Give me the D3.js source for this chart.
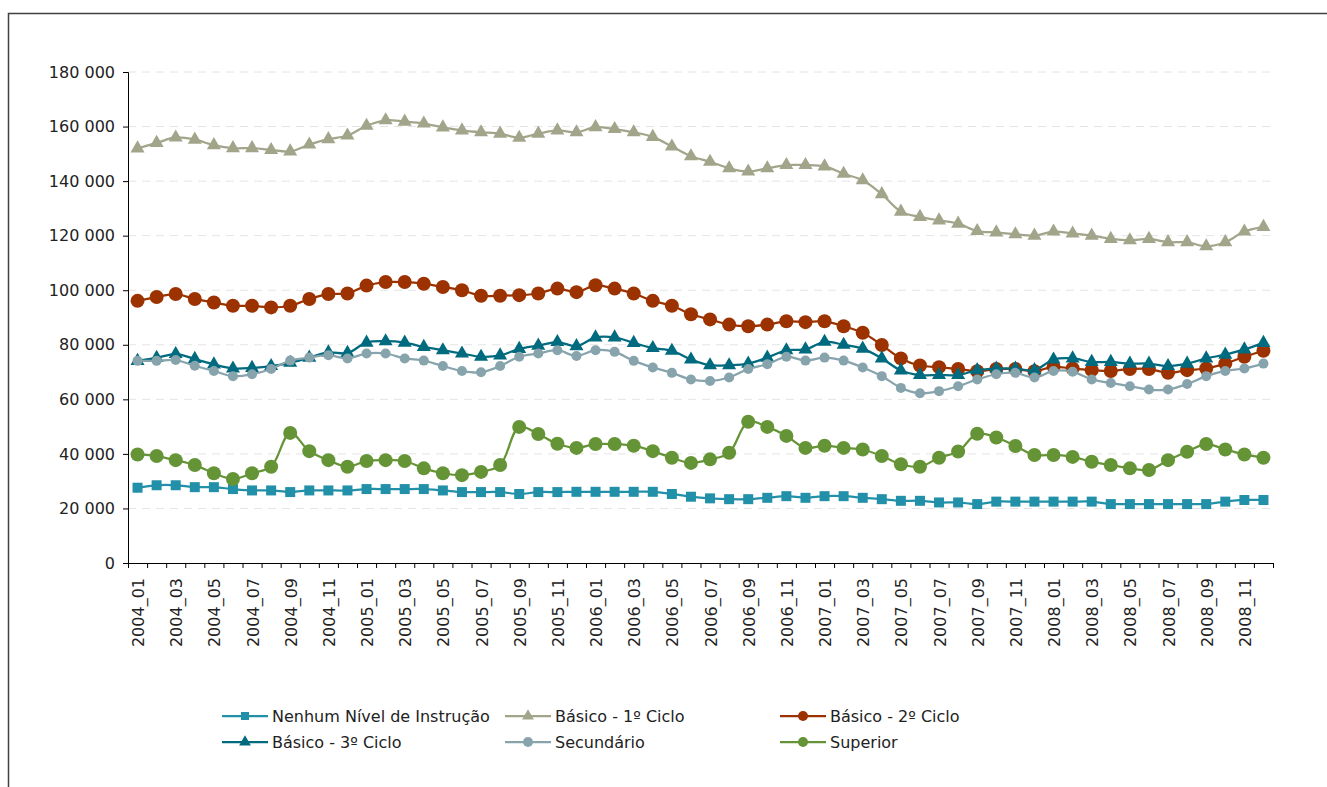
<!DOCTYPE html>
<html>
<head>
<meta charset="utf-8">
<script src="https://cdn.jsdelivr.net/npm/d3@7"></script>
<style>
  body { margin: 0; background: #fff; }
  text { font-family: "DejaVu Sans", sans-serif; fill: #222; }
</style>
</head>
<body>
<div id="chart"></div>
<script>
const years = ["2004", "2005", "2006", "2007", "2008"];
const months = ["01", "02", "03", "04", "05", "06", "07", "08", "09", "10", "11", "12"];
const categories = years.flatMap(y => months.map(m => `${y}_${m}`));

const yTicks = [0, 20000, 40000, 60000, 80000, 100000, 120000, 140000, 160000, 180000];

const nenhum = [27600, 28500, 28500, 27800, 27800, 27100, 26600, 26600, 26000, 26600, 26600, 26600,
    27100, 27100, 27100, 27100, 26600, 26000, 26000, 26000, 25300, 26000, 26000, 26100,
    26100, 26100, 26100, 26100, 25300, 24300, 23700, 23400, 23400, 23900, 24500, 23900,
    24500, 24500, 23900, 23400, 22800, 22800, 22200, 22200, 21600, 22500, 22500, 22500,
    22500, 22500, 22500, 21600, 21600, 21600, 21600, 21600, 21600, 22500, 23100, 23100];

const basico1 = [152000, 154000, 156000, 155200, 153200, 152100, 152100, 151400, 150900, 153400, 155400, 156700,
    160300, 162300, 161800, 161100, 159700, 158600, 157900, 157400, 155900, 157400, 158600, 157900,
    159800, 159100, 157900, 156200, 152700, 149100, 147100, 144700, 143500, 144700, 145900, 145900,
    145400, 142700, 140300, 135200, 128800, 126900, 125600, 124400, 121700, 121200, 120500, 120000,
    121500, 120800, 120000, 118800, 118300, 118800, 117600, 117600, 116100, 117600, 121500, 123200];

const basico2 = [96100, 97500, 98600, 96800, 95500, 94300, 94300, 93700, 94300, 96800, 98600, 98800,
    101700, 103000, 103000, 102400, 101200, 100000, 98000, 98000, 98200, 98800, 100600, 99300,
    101800, 100600, 98800, 96100, 94300, 91200, 89300, 87400, 86800, 87400, 88600, 88300,
    88600, 86800, 84400, 79900, 75000, 72400, 71800, 71100, 70300, 71100, 71100, 70300,
    71900, 71300, 70700, 70400, 71100, 71100, 69700, 70700, 71300, 73100, 75600, 77800];

const basico3 = [74100, 75200, 76600, 74800, 72800, 71300, 71500, 72200, 73400, 75300, 77200, 77000,
    80800, 81300, 80800, 79200, 78000, 76800, 75600, 76100, 78500, 79700, 81000, 79500,
    82700, 82700, 80700, 78800, 77800, 74600, 72500, 72500, 73100, 75300, 78000, 78300,
    81100, 80000, 78600, 75000, 70600, 68900, 68900, 68900, 70700, 71300, 71300, 70700,
    74600, 75000, 73700, 73700, 73100, 73100, 72200, 73100, 75000, 76400, 78300, 80700];

const secundario = [74100, 74100, 74400, 72300, 70400, 68500, 69200, 71100, 74200, 75300, 76200, 75000,
    76800, 76800, 75000, 74200, 72200, 70400, 69900, 72200, 75600, 76800, 78000, 75900,
    78000, 77400, 74100, 71700, 69700, 67300, 66700, 68000, 71100, 72900, 75600, 74200,
    75300, 74200, 71700, 68500, 64200, 62200, 63000, 64800, 67300, 69200, 69700, 68000,
    70400, 70100, 67300, 66000, 64800, 63600, 63600, 65600, 68500, 70400, 71300, 73100];

const superior = [39800, 39200, 37700, 35900, 32900, 30800, 32900, 35300, 47700, 41000, 37700, 35300,
    37400, 37700, 37400, 34700, 32900, 32200, 33400, 35900, 49900, 47300, 43700, 42200,
    43600, 43600, 43000, 41000, 38600, 36700, 38000, 40400, 51800, 49900, 46600, 42200,
    43000, 42200, 41600, 39200, 36200, 35300, 38600, 40900, 47400, 46000, 42900, 39600,
    39600, 38900, 37100, 35900, 34700, 34100, 37700, 40800, 43600, 41600, 39800, 38600];

const seriesNames = ["Nenhum Nível de Instrução", "Básico - 1º Ciclo", "Básico - 2º Ciclo",
    "Básico - 3º Ciclo", "Secundário", "Superior"];

const series = [
    { name: seriesNames[0], values: nenhum, color: "#2190a8", shape: "square", size: 100 },
    { name: seriesNames[1], values: basico1, color: "#a2a58a", shape: "triangle", size: 85 },
    { name: seriesNames[2], values: basico2, color: "#9b3200", shape: "circle", size: 7 },
    { name: seriesNames[3], values: basico3, color: "#006a7f", shape: "triangle", size: 85 },
    { name: seriesNames[4], values: secundario, color: "#87a4ad", shape: "circle", size: 5 },
    { name: seriesNames[5], values: superior, color: "#659437", shape: "circle", size: 7 }
];

const width = 1327, height = 787;
const margin = { left: 128, right: 1273, top: 72, bottom: 563 };

const svg = d3.select("#chart").append("svg")
    .attr("width", width)
    .attr("height", height);

// outer frame
svg.append("rect")
    .attr("x", 8.5)
    .attr("y", 13.5)
    .attr("width", 1400)
    .attr("height", 900)
    .attr("fill", "none")
    .attr("stroke", "#404040")
    .attr("stroke-width", 1.5);

const x = d3.scaleBand()
    .domain(categories)
    .range([margin.left, margin.right]);

const xIdx = d3.scaleLinear()
    .domain([0, categories.length])
    .range([margin.left, margin.right]);

const y = d3.scaleLinear()
    .domain([0, 180000])
    .range([margin.bottom, margin.top]);

// gridlines
svg.append("g")
    .selectAll("line")
    .data(yTicks.filter(d => d > 0))
    .enter()
    .append("line")
    .attr("x1", margin.left)
    .attr("x2", margin.right)
    .attr("y1", d => y(d))
    .attr("y2", d => y(d))
    .attr("stroke", "#e4e4e4")
    .attr("stroke-width", 1)
    .attr("stroke-dasharray", "8,6");

// y axis
const yAxis = svg.append("g")
    .attr("transform", `translate(${margin.left},0)`)
    .call(d3.axisLeft(y)
        .tickValues(yTicks)
        .tickSize(5)
        .tickPadding(8)
        .tickFormat(d => d3.format(",")(d).replace(/,/g, " ")));
yAxis.select(".domain").attr("stroke", "#000");
yAxis.selectAll("line").attr("stroke", "#000");
yAxis.selectAll("text").style("font-size", "16px").attr("fill", "#222");

// x axis: tick marks on category boundaries
const xTickAxis = svg.append("g")
    .attr("transform", `translate(0,${margin.bottom})`)
    .call(d3.axisBottom(xIdx)
        .tickValues(d3.range(categories.length + 1))
        .tickSize(5)
        .tickFormat(""));
xTickAxis.select(".domain").attr("stroke", "#000");
xTickAxis.selectAll("line").attr("stroke", "#000");

// x labels every other month
const xLabelAxis = svg.append("g")
    .attr("transform", `translate(0,${margin.bottom})`)
    .call(d3.axisBottom(x)
        .tickValues(categories.filter((d, i) => i % 2 === 0))
        .tickSize(0)
        .tickPadding(0));
xLabelAxis.select(".domain").remove();
xLabelAxis.selectAll("text")
    .attr("transform", "rotate(-90)")
    .attr("x", -15)
    .attr("y", 1)
    .attr("dy", "0.35em")
    .attr("text-anchor", "end")
    .style("font-size", "16px")
    .attr("fill", "#222");

const cx = (d, i) => x(categories[i]) + x.bandwidth() / 2;

const line = d3.line()
    .x((d, i) => cx(d, i))
    .y(d => y(d))
    .curve(d3.curveCatmullRom.alpha(0.5));

function drawMarker(sel, s) {
    if (s.shape === "circle") {
        sel.append("circle")
            .attr("r", s.size)
            .attr("fill", s.color);
    } else {
        const sym = s.shape === "square" ? d3.symbolSquare : d3.symbolTriangle;
        sel.append("path")
            .attr("d", d3.symbol().type(sym).size(s.size)())
            .attr("fill", s.color);
    }
}

series.forEach(s => {
    const g = svg.append("g");
    g.append("path")
        .datum(s.values)
        .attr("d", line)
        .attr("fill", "none")
        .attr("stroke", s.color)
        .attr("stroke-width", 2.25);

    g.selectAll("g.pt")
        .data(s.values)
        .enter()
        .append("g")
        .attr("class", "pt")
        .attr("transform", (d, i) => `translate(${cx(d, i)},${y(d)})`)
        .each(function () { drawMarker(d3.select(this), s); });
});

// legend
const legendCols = [222, 505, 780];
const legendRows = [716, 742];
series.forEach((s, i) => {
    const lx = legendCols[i % 3];
    const ly = legendRows[Math.floor(i / 3)];
    const lg = svg.append("g").attr("transform", `translate(${lx},${ly})`);
    lg.append("line")
        .attr("x1", 0)
        .attr("x2", 46)
        .attr("stroke", s.color)
        .attr("stroke-width", 2.25);
    const m = lg.append("g").attr("transform", "translate(23,0)");
    const ms = Object.assign({}, s, {
        size: s.shape === "circle" ? 5 : (s.shape === "square" ? 64 : 60)
    });
    drawMarker(m, ms);
    lg.append("text")
        .attr("x", 50)
        .attr("y", 0)
        .attr("dy", "0.35em")
        .style("font-size", "16px")
        .attr("fill", "#222")
        .text(s.name);
});
</script>
</body>
</html>
